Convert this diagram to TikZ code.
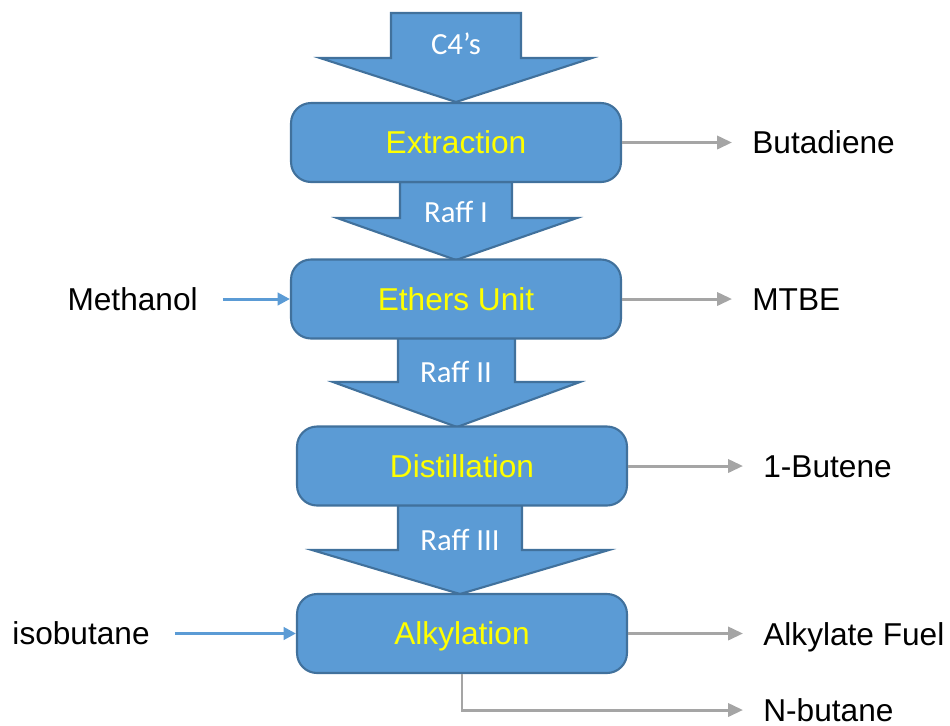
\documentclass[tikz,border=0pt]{standalone}
\usepackage{fontspec}
\setmainfont{Liberation Sans}
\newfontfamily\carlito{Carlito}
\usetikzlibrary{arrows.meta}
\definecolor{unitblue}{HTML}{5B9BD5}
\definecolor{unitedge}{HTML}{41719C}
\definecolor{prodgray}{HTML}{A5A5A5}
\definecolor{unityellow}{HTML}{FFFF00}

\begin{document}
\begin{tikzpicture}[x=0.02cm,y=-0.02cm,
    unit/.style={rectangle,rounded corners=0.4cm,draw=unitedge,line width=1.2pt,fill=unitblue,
      minimum width=6.6cm,minimum height=1.58cm,text=unityellow,
      font=\fontsize{18}{20}\selectfont,text height=12.9pt,text depth=0pt},
    blockarrow/.style={draw=unitedge,line width=1.2pt,fill=unitblue,line join=miter},
    stream/.style={text=white,font=\carlito\fontsize{17.5}{20}\selectfont,text height=11.3pt,text depth=0pt},
    label/.style={inner sep=0pt,font=\fontsize{18}{20}\selectfont,text height=12.9pt,text depth=0pt},
    product/.style={draw=prodgray,line width=1.7pt,-{Triangle[length=8.5pt,width=7.5pt]},shorten >=0.4cm},
    feed/.style={draw=unitblue,line width=1.7pt,-{Triangle[length=7pt,width=7pt]},shorten <=0.5cm}]
    \useasboundingbox (0,0) rectangle (950,725);
    % Block arrows between units
    \draw[blockarrow] (391,13) -- (521,13) -- (521,58) -- (592,58) -- (456,102) -- (320,58) -- (391,58) -- cycle;
    \draw[blockarrow] (400,182) -- (512,182) -- (512,218) -- (577,218) -- (456,260) -- (337,218) -- (400,218) -- cycle;
    \draw[blockarrow] (398,338) -- (515,338) -- (515,382) -- (580,382) -- (457,427) -- (333,382) -- (398,382) -- cycle;
    \draw[blockarrow] (398,505) -- (522,505) -- (522,550) -- (609,550) -- (460,594) -- (312,550) -- (398,550) -- cycle;
    \node (c4) at (456,45) [stream] {C4’s};
    \node (r1) at (456,213) [stream] {Raff I};
    \node (r2) at (456,373) [stream] {Raff II};
    \node (r3) at (460,541) [stream] {Raff III};
    % Units
    \node (ext) at (456,142.5) [unit] {Extraction};
    \node (eth) at (456,299) [unit] {Ethers Unit};
    \node (dis) at (462,466) [unit] {Distillation};
    \node (alk) at (462,633.5) [unit] {Alkylation};
    % Feeds and products
    \node (meth) at (198,299) [label,anchor=east] {Methanol};
    \node (iso) at (150,633.5) [label,anchor=east] {isobutane};
    \node (but) at (752,142.5) [label,anchor=west] {Butadiene};
    \node (mtbe) at (752,299) [label,anchor=west] {MTBE};
    \node (bute) at (763,466) [label,anchor=west] {1-Butene};
    \node (fuel) at (763,634) [label,anchor=west] {Alkylate Fuel};
    \node (nbut) at (763,710) [label,anchor=west] {N-butane};
    % Connectors
    \path[feed] (meth.east) -- (eth.west);
    \path[feed] (iso.east) -- (alk.west);
    \path[product] (ext.east) -- (ext.east -| but.west);
    \path[product] (eth.east) -- (eth.east -| mtbe.west);
    \path[product] (dis.east) -- (dis.east -| bute.west);
    \path[product] (alk.east) -- (alk.east -| fuel.west);
    \path[product] (alk.south) |- (nbut.west);
\end{tikzpicture}
\end{document}
